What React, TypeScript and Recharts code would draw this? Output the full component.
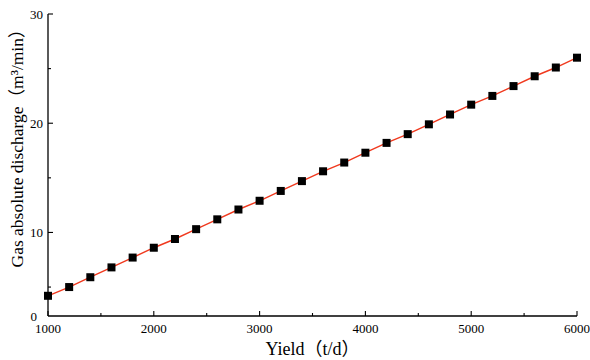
import React from 'react';
import { ComposedChart, Line, XAxis, YAxis, Label } from 'recharts';

// yield (t/d) vs gas absolute discharge (m3/min)
const yields = [
  1000, 1200, 1400, 1600, 1800, 2000, 2200, 2400, 2600, 2800, 3000, 3200, 3400,
  3600, 3800, 4000, 4200, 4400, 4600, 4800, 5000, 5200, 5400, 5600, 5800, 6000,
];
const discharge = [
  4.2, 5.0, 5.9, 6.8, 7.7, 8.6, 9.4, 10.3, 11.2, 12.1, 12.9, 13.8, 14.7,
  15.6, 16.4, 17.3, 18.2, 19.0, 19.9, 20.8, 21.7, 22.5, 23.4, 24.3, 25.1, 26.0,
];

const xTicks = [1000, 1500, 2000, 2500, 3000, 3500, 4000, 4500, 5000, 5500, 6000];
const xTickLabels = ['1000', '', '2000', '', '3000', '', '4000', '', '5000', '', '6000'];

// the axis starts a little above zero but the bottom is still labelled "0"
const yMin = 2.35;
const yTicks = [yMin, 5, 10, 15, 20, 25, 30];
const yTickLabels = ['0', '', '10', '', '20', '', '30'];

const data = yields.map((x, i) => ({ x, y: discharge[i] }));

const FONT = '"Liberation Serif", "Noto Sans CJK SC", serif';

const XTick = (props: any) => {
  const { x, y, payload } = props;
  const i = xTicks.indexOf(payload.value);
  const label = xTickLabels[i];
  const len = label ? 5 : 3;
  return (
    <g>
      <line x1={x} x2={x} y1={y} y2={y - len} stroke="#000" strokeWidth={1.1} />
      {label && (
        <text x={x} y={y + 17} textAnchor="middle" fontFamily={FONT} fontSize={13} fill="#000">
          {label}
        </text>
      )}
    </g>
  );
};

const YTick = (props: any) => {
  const { x, y, payload } = props;
  const i = yTicks.indexOf(payload.value);
  const label = yTickLabels[i];
  if (i === 0) {
    return (
      <text x={x - 11} y={y + 5} textAnchor="end" fontFamily={FONT} fontSize={13} fill="#000">
        {label}
      </text>
    );
  }
  const len = label ? 5 : 3;
  return (
    <g>
      <line x1={x} x2={x + len} y1={y} y2={y} stroke="#000" strokeWidth={1.1} />
      {label && (
        <text x={x - 5} y={y + 4.5} textAnchor="end" fontFamily={FONT} fontSize={13} fill="#000">
          {label}
        </text>
      )}
    </g>
  );
};

const SquareDot = (p: any) => (
  <rect key={`pt-${p.index}`} x={p.cx - 4} y={p.cy - 4} width={8} height={8} fill="#000" />
);

export default function App() {
  return (
    <div style={{ position: 'absolute', left: 0, top: 0, background: '#fff' }}>
      <ComposedChart width={590} height={360} data={data} margin={{ top: 14, right: 13, left: 0, bottom: 0 }}>
        <XAxis
          dataKey="x"
          type="number"
          domain={[1000, 6000]}
          ticks={xTicks}
          interval={0}
          height={44}
          tickSize={0}
          tickMargin={0}
          tickLine={false}
          axisLine={{ stroke: '#000', strokeWidth: 1.3 }}
          tick={<XTick />}
        >
          <Label
            value="Yield（t/d）"
            position="insideBottom"
            offset={5}
            style={{ fontFamily: FONT, fontSize: 18, fill: '#000' }}
          />
        </XAxis>
        <YAxis
          type="number"
          domain={[yMin, 30]}
          ticks={yTicks}
          interval={0}
          width={48}
          tickSize={0}
          tickMargin={0}
          tickLine={false}
          allowDataOverflow
          axisLine={{ stroke: '#000', strokeWidth: 1.3 }}
          tick={<YTick />}
        >
          <Label
            content={({ viewBox }: any) => (
              <text
                transform={`translate(17, ${viewBox.y + 130}) rotate(-90)`}
                textAnchor="middle"
                dominantBaseline="central"
                fontFamily={FONT}
                fontSize={17.5}
                fill="#000"
              >
                Gas absolute discharge（m³/min）
              </text>
            )}
          />
        </YAxis>
        <Line
          dataKey="y"
          stroke="#f0391e"
          strokeWidth={1.4}
          dot={SquareDot}
          activeDot={false}
          isAnimationActive={false}
        />
      </ComposedChart>
    </div>
  );
}
